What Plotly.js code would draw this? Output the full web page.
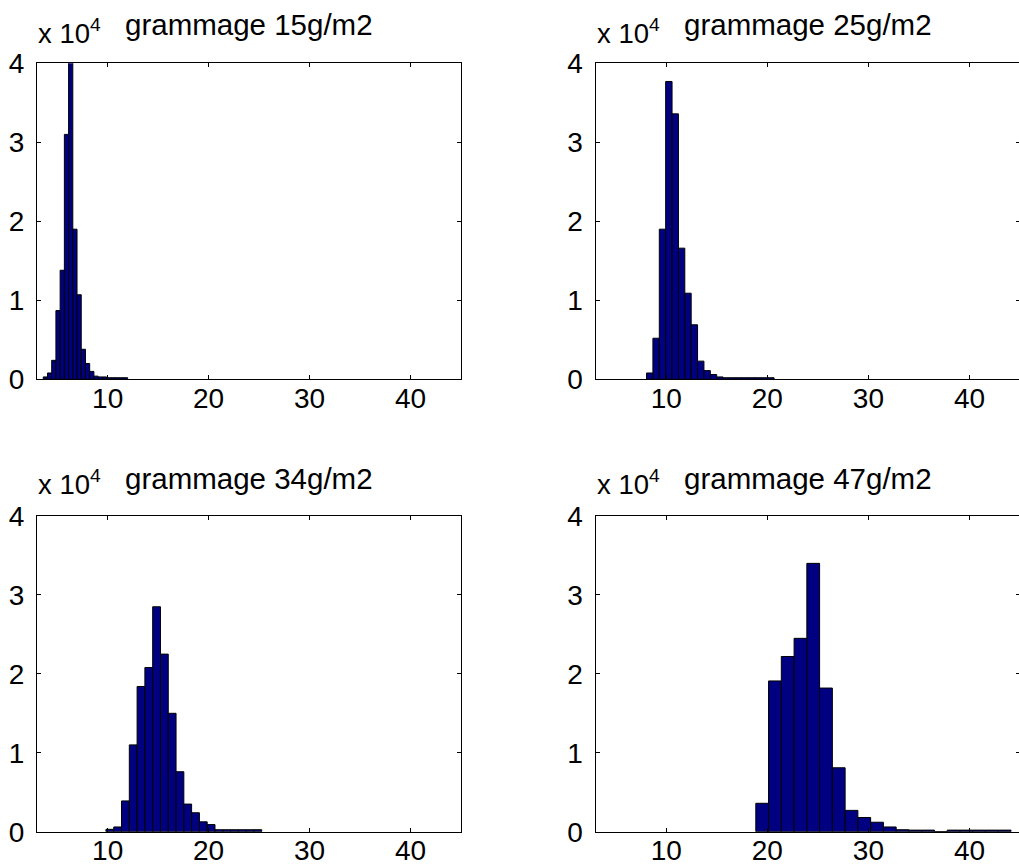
<!DOCTYPE html>
<html>
<head>
<meta charset="utf-8">
<script src="https://cdn.plot.ly/plotly-3.0.1.min.js"></script>
<style>
  html, body { margin: 0; padding: 0; background: #ffffff; overflow: hidden; }
  #chart { width: 1021px; height: 868px; }
</style>
</head>
<body>
<div id="chart"></div>
<script>
// ---- Data (MATLAB hist with 20 bins per panel) ----
const panelTitles = ['grammage 15g/m2', 'grammage 25g/m2', 'grammage 34g/m2', 'grammage 47g/m2'];

// data range covered by the 20 bins of each panel
const binRange15 = [3.62, 11.98];
const binRange25 = [8.05, 20.67];
const binRange34 = [9.83, 25.26];
const binRange47 = [18.86, 44.11];

// counts per bin
const counts15 = [300, 800, 2400, 8700, 13800, 31000, 40500, 19000, 10700, 3800, 2000, 1000, 400, 300, 300, 200, 200, 200, 200, 200];
const counts25 = [800, 5200, 19000, 37700, 33600, 16600, 10900, 6900, 2300, 1100, 600, 300, 200, 200, 200, 200, 200, 200, 200, 200];
const counts34 = [300, 600, 3900, 11000, 18400, 20800, 28500, 22500, 15000, 7600, 3500, 2400, 1250, 900, 250, 250, 250, 250, 250, 250];
const counts47 = [3600, 19100, 22200, 24500, 34000, 18200, 8100, 2700, 1800, 1200, 600, 250, 200, 200, 0, 200, 200, 200, 200, 200];

const xTickVals = [10, 20, 30, 40];
const yTickVals = [0, 10000, 20000, 30000, 40000];
const yTickText = ['0', '1', '2', '3', '4'];
const exponentLabel = 'x 10<sup>4</sup>';

// ---- Build traces ----
function histTrace(range, counts, xa, ya) {
  const n = counts.length;
  const w = (range[1] - range[0]) / n;
  const centers = counts.map((_, i) => range[0] + w * (i + 0.5));
  return {
    type: 'bar', x: centers, y: counts, width: w,
    xaxis: xa, yaxis: ya,
    marker: { color: '#000080', line: { color: '#000000', width: 1 } },
    hoverinfo: 'x+y', showlegend: false
  };
}

const traces = [
  histTrace(binRange15, counts15, 'x', 'y'),
  histTrace(binRange25, counts25, 'x2', 'y2'),
  histTrace(binRange34, counts34, 'x3', 'y3'),
  histTrace(binRange47, counts47, 'x4', 'y4')
];

// ---- Layout ----
const W = 1021, H = 868;
const family = '"Liberation Sans", Arial, Helvetica, sans-serif';
const tickFont = { family: family, size: 28, color: '#000000' };

const colL = [37 / W, 461 / W];
const colR = [595.5 / W, 1020 / W];
const rowT = [(H - 379.3) / H, (H - 63.3) / H];
const rowB = [(H - 831.7) / H, (H - 516) / H];

function xAxis(domain, anchor) {
  return {
    domain: domain, anchor: anchor, range: [3, 45],
    tickmode: 'array', tickvals: xTickVals,
    ticks: 'inside', ticklen: 4, tickwidth: 1, tickcolor: '#000',
    showline: true, linecolor: '#000', linewidth: 1, mirror: 'ticks',
    showgrid: false, zeroline: false, automargin: false,
    ticklabelstandoff: -6, tickfont: tickFont
  };
}
function yAxis(domain, anchor) {
  return {
    domain: domain, anchor: anchor, range: [0, 40000],
    tickmode: 'array', tickvals: yTickVals, ticktext: yTickText,
    ticks: 'inside', ticklen: 4, tickwidth: 1, tickcolor: '#000',
    showline: true, linecolor: '#000', linewidth: 1, mirror: 'ticks',
    showgrid: false, zeroline: false, automargin: false,
    ticklabelstandoff: 6, tickfont: tickFont
  };
}

const annotations = [];
const cols = [colL, colR, colL, colR];
const titleBase = [36, 36, 490, 490];
const expBase = [44.5, 44.5, 494.5, 494.5];
for (let i = 0; i < 4; i++) {
  const c = cols[i];
  annotations.push({
    xref: 'paper', yref: 'paper', x: (c[0] + c[1]) / 2, y: (H - titleBase[i] - 7) / H,
    xanchor: 'center', yanchor: 'bottom', showarrow: false,
    text: panelTitles[i], font: { family: family, size: 29.5, color: '#000' }
  });
  annotations.push({
    xref: 'paper', yref: 'paper', x: c[0] - 1 / W, y: (H - expBase[i] - 7) / H,
    xanchor: 'left', yanchor: 'bottom', showarrow: false,
    text: exponentLabel, font: { family: family, size: 27.5, color: '#000' }
  });
}

const layout = {
  width: W, height: H,
  margin: { l: 0, r: 0, t: 0, b: 0, pad: 0 },
  paper_bgcolor: '#ffffff', plot_bgcolor: '#ffffff',
  font: tickFont, bargap: 0, showlegend: false,
  xaxis: xAxis(colL, 'y'), yaxis: yAxis(rowT, 'x'),
  xaxis2: xAxis(colR, 'y2'), yaxis2: yAxis(rowT, 'x2'),
  xaxis3: xAxis(colL, 'y3'), yaxis3: yAxis(rowB, 'x3'),
  xaxis4: xAxis(colR, 'y4'), yaxis4: yAxis(rowB, 'x4'),
  annotations: annotations
};

Plotly.newPlot('chart', traces, layout, { displayModeBar: false, staticPlot: true });
</script>
</body>
</html>
